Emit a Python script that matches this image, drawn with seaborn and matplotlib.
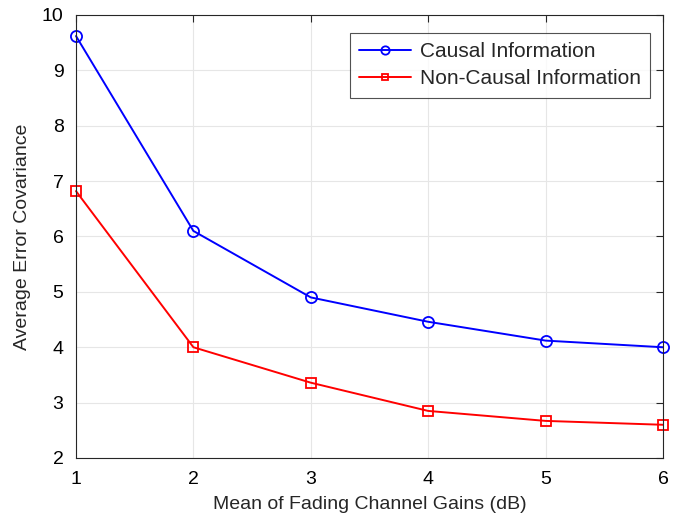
import matplotlib
matplotlib.use("Agg")
import matplotlib.pyplot as plt
import seaborn as sns
import pandas as pd

x_vals = [1, 2, 3, 4, 5, 6]
causal = [9.62, 6.10, 4.90, 4.46, 4.12, 4.00]
noncausal = [6.82, 4.00, 3.36, 2.85, 2.67, 2.60]
series_names = ["Causal Information", "Non-Causal Information"]

sns.set_style("white")
plt.rcParams['font.family'] = ['Liberation Sans', 'DejaVu Sans']

fig = plt.figure(figsize=(6.84, 5.22), dpi=100)
ax = fig.add_axes([76/684, 1-458/522, (663-76)/684, (458-15)/522])

for vals, name, col, mk, ms in [(causal, series_names[0], "#0000ff", "o", 8),
                                (noncausal, series_names[1], "#ff0000", "s", 6.5)]:
    sns.lineplot(x=x_vals, y=vals, ax=ax, color=col, marker=mk, markersize=ms,
                 markerfacecolor="none", markeredgecolor=col, markeredgewidth=1.3,
                 linewidth=1.4, label=name, legend=False)

for line in ax.lines:
    line.set_clip_on(False)

ax.set_xlim(1, 6)
ax.set_ylim(2, 10)
ax.set_xticks(range(1, 7))
ax.set_yticks(range(2, 11))
ax.grid(True, color="#e6e6e6", linewidth=0.8)
ax.tick_params(direction="in", labelsize=14, length=5, width=0.8, pad=9,
               colors="#262626", labelcolor="black",
               top=True, right=True, labeltop=False, labelright=False)
for s in ax.spines.values():
    s.set_color("#262626")
    s.set_linewidth(0.8)
ax.set_xlabel("Mean of Fading Channel Gains (dB)", fontsize=14, labelpad=6)
ax.set_ylabel("Average Error Covariance", fontsize=14, labelpad=8)

handles = ax.lines[:2]
leg = ax.legend(handles, series_names, loc="upper right", bbox_to_anchor=(0.978, 0.96),
                borderaxespad=0,
                fontsize=15, frameon=True, fancybox=False, edgecolor="#262626",
                handlelength=2.5, handletextpad=0.4, borderpad=0.45, labelspacing=0.4,
                markerscale=0.75)
leg.get_frame().set_linewidth(0.8)

fig.savefig("out.png", dpi=100)
